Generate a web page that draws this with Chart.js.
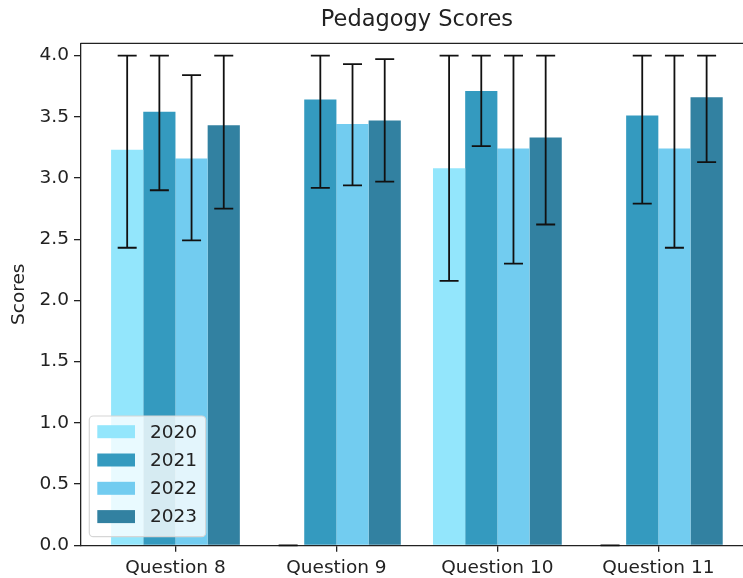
<!DOCTYPE html>
<html>
<head>
<meta charset="utf-8">
<script src="https://cdn.jsdelivr.net/npm/chart.js@4.4.1/dist/chart.umd.min.js"></script>
<style>
  html, body { margin: 0; padding: 0; background: #fff; overflow: hidden; width: 743px; height: 578px; }
  #wrap { position: relative; width: 743px; height: 578px; overflow: hidden; }
</style>
</head>
<body>
<div id="wrap"><canvas id="c" width="760" height="578"></canvas></div>
<script>
// Question categories along the x axis and the survey years
const categories = ['Question 8', 'Question 9', 'Question 10', 'Question 11'];
const years = ['2020', '2021', '2022', '2023'];

// Mean scores per year
const scores2020 = [3.23, 0, 3.08, 0];
const scores2021 = [3.54, 3.64, 3.71, 3.51];
const scores2022 = [3.16, 3.44, 3.24, 3.24];
const scores2023 = [3.43, 3.47, 3.33, 3.66];

// Error bar bounds per year (lower / upper)
const low2020 = [2.43, 0, 2.16, 0];
const high2020 = [4.0, 0, 4.0, 0];
const low2021 = [2.90, 2.92, 3.26, 2.79];
const high2021 = [4.0, 4.0, 4.0, 4.0];
const low2022 = [2.49, 2.94, 2.30, 2.43];
const high2022 = [3.84, 3.93, 4.0, 4.0];
const low2023 = [2.75, 2.97, 2.62, 3.13];
const high2023 = [4.0, 3.97, 4.0, 4.0];

// Y tick values
const yTicks = [0, 0.5, 1.0, 1.5, 2.0, 2.5, 3.0, 3.5, 4.0];

const yearColors = ['#93e6fc', '#349abf', '#72ccf0', '#3281a1'];
const allScores = [scores2020, scores2021, scores2022, scores2023];
const allLows = [low2020, low2021, low2022, low2023];
const allHighs = [high2020, high2021, high2022, high2023];

const FONT = 'DejaVu Sans';
const INK = '#222';

const datasets = years.map((yr, i) => ({
  label: yr,
  data: allScores[i].map((v, j) => ({ x: j, y: v })),
  backgroundColor: yearColors[i],
  borderWidth: 0,
  barPercentage: 1.0,
  categoryPercentage: 0.8,
  errLow: allLows[i],
  errHigh: allHighs[i]
}));

// Vertical error bars with caps on every bar
const errorBars = {
  id: 'errorBars',
  afterDatasetsDraw(chart) {
    const ctx = chart.ctx;
    const ys = chart.scales.y;
    ctx.save();
    ctx.strokeStyle = '#111';
    ctx.lineWidth = 1.8;
    chart.data.datasets.forEach((ds, i) => {
      chart.getDatasetMeta(i).data.forEach((bar, j) => {
        const x = bar.x;
        const yl = ys.getPixelForValue(ds.errLow[j]);
        const yh = ys.getPixelForValue(ds.errHigh[j]);
        const cap = 9.5;
        ctx.beginPath();
        ctx.moveTo(x, yl); ctx.lineTo(x, yh);
        ctx.moveTo(x - cap, yl); ctx.lineTo(x + cap, yl);
        ctx.moveTo(x - cap, yh); ctx.lineTo(x + cap, yh);
        ctx.stroke();
      });
    });
    ctx.restore();
  }
};

// Top spine of the axes frame
const topSpine = {
  id: 'topSpine',
  afterDraw(chart) {
    const { ctx, chartArea } = chart;
    ctx.save();
    ctx.strokeStyle = INK;
    ctx.lineWidth = 1.3;
    ctx.beginPath();
    ctx.moveTo(chartArea.left, chartArea.top);
    ctx.lineTo(chartArea.right, chartArea.top);
    ctx.stroke();
    ctx.restore();
  }
};

// Legend box in the lower-left corner of the plot area
const innerLegend = {
  id: 'innerLegend',
  afterDraw(chart) {
    const { ctx, chartArea } = chart;
    const boxX = chartArea.left + 8.8;
    const boxW = 116.4;
    const boxH = 120.7;
    const boxY = chartArea.bottom - 8.6 - boxH;
    ctx.save();
    ctx.beginPath();
    ctx.moveTo(boxX + 4, boxY);
    ctx.arcTo(boxX + boxW, boxY, boxX + boxW, boxY + boxH, 4);
    ctx.arcTo(boxX + boxW, boxY + boxH, boxX, boxY + boxH, 4);
    ctx.arcTo(boxX, boxY + boxH, boxX, boxY, 4);
    ctx.arcTo(boxX, boxY, boxX + boxW, boxY, 4);
    ctx.closePath();
    ctx.fillStyle = 'rgba(255,255,255,0.8)';
    ctx.fill();
    ctx.strokeStyle = '#d6d6d6';
    ctx.lineWidth = 1.2;
    ctx.stroke();
    ctx.font = '18.5px "' + FONT + '"';
    ctx.textBaseline = 'middle';
    ctx.textAlign = 'left';
    chart.data.datasets.forEach((ds, i) => {
      const cy = boxY + 15.7 + i * 28.3;
      ctx.fillStyle = ds.backgroundColor;
      ctx.fillRect(boxX + 8, cy - 6.5, 37.7, 13);
      ctx.fillStyle = INK;
      ctx.fillText(ds.label, boxX + 60.7, cy + 1);
    });
    ctx.restore();
  }
};

new Chart(document.getElementById('c'), {
  type: 'bar',
  data: { datasets },
  plugins: [errorBars, topSpine, innerLegend],
  options: {
    responsive: false,
    animation: false,
    // the plot area continues past the right edge of the visible page
    layout: { padding: { left: 0, right: 6.7, top: 0, bottom: 0 } },
    plugins: {
      legend: { display: false },
      tooltip: { enabled: false },
      title: {
        display: true,
        text: 'Pedagogy Scores',
        fullSize: false,
        color: INK,
        font: { family: FONT, size: 22.5, weight: 'normal' },
        padding: { top: 6.5, bottom: 9.8 }
      }
    },
    scales: {
      x: {
        type: 'linear',
        min: -0.59,
        max: 3.59,
        offset: false,
        afterBuildTicks(scale) {
          scale.ticks = categories.map((_, i) => ({ value: i }));
        },
        afterFit(scale) { scale.height = 32.7; },
        ticks: {
          callback: (v) => categories[v],
          color: INK,
          font: { family: FONT, size: 18.5 },
          padding: 5,
          maxRotation: 0,
          autoSkip: false
        },
        grid: {
          offset: false,
          drawOnChartArea: false,
          drawTicks: true,
          tickLength: 6.5,
          color: INK,
          lineWidth: 1.3
        },
        border: { display: true, color: INK, width: 1.3 }
      },
      y: {
        type: 'linear',
        min: 0,
        max: 4.1,
        afterBuildTicks(scale) {
          scale.ticks = yTicks.map(v => ({ value: v }));
        },
        afterFit(scale) { scale.width = 80.5; },
        ticks: {
          callback: (v) => v.toFixed(1),
          color: INK,
          font: { family: FONT, size: 18.5 },
          padding: 5
        },
        grid: {
          drawOnChartArea: false,
          drawTicks: true,
          tickLength: 6.5,
          color: INK,
          lineWidth: 1.3
        },
        border: { display: true, color: INK, width: 1.3 },
        title: {
          display: true,
          text: 'Scores',
          color: INK,
          font: { family: FONT, size: 18.5 },
          padding: { top: 8, bottom: 0 }
        }
      }
    }
  }
});
</script>
</body>
</html>
